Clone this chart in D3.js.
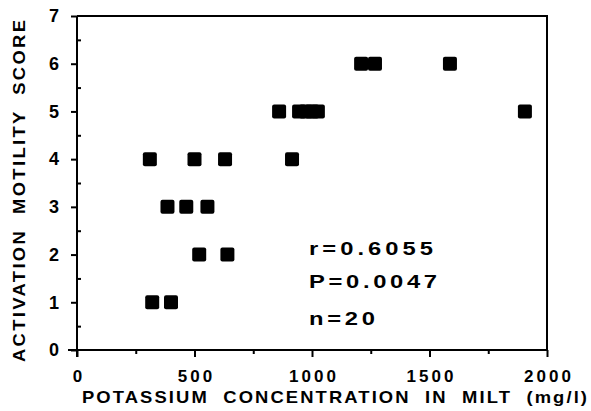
<!DOCTYPE html>
<html>
<head>
<meta charset="utf-8">
<script src="https://cdn.jsdelivr.net/npm/d3@7"></script>
<style>
  body { margin: 0; background: #fff; }
  text { font-family: 'Liberation Sans', Arial, sans-serif; font-weight: bold; fill: #000; white-space: pre; }
</style>
</head>
<body>
<script>
// potassium (mg/l) vs activation motility score
const potassium = [310, 500, 630, 915, 385, 465, 555, 520, 640, 320, 400,
  860, 945, 975, 1000, 1025, 1906, 1209, 1268, 1587];
const motility = [4, 4, 4, 4, 3, 3, 3, 2, 2, 1, 1,
  5, 5, 5, 5, 5, 5, 6, 6, 6];
const xMajor = [0, 500, 1000, 1500, 2000];
const xMinor = [250, 750, 1250, 1750];
const yMajor = [0, 1, 2, 3, 4, 5, 6, 7];
const yMinor = [0.5, 1.5, 2.5, 3.5, 4.5, 5.5, 6.5];
const stats = ['r=0.6055', 'P=0.0047', 'n=20'];

const w = 591;
const h = 411;
const wide = 1.15; // the original lettering is a little extended

const x = d3.scaleLinear().domain([0, 2000]).range([77, 547]);
const y = d3.scaleLinear().domain([0, 7]).range([350, 16]);

const svg = d3.select('body').append('svg')
  .attr('width', w)
  .attr('height', h);

// frame top and right
svg.append('path')
  .attr('d', 'M' + x(0) + ',' + y(7) + 'H' + x(2000) + 'V' + y(0))
  .attr('fill', 'none')
  .attr('stroke', '#000')
  .attr('stroke-width', 2);

// x axis
const xAxis = svg.append('g')
  .attr('transform', 'translate(0,' + y(0) + ')')
  .call(d3.axisBottom(x).tickValues(xMajor).tickFormat(d3.format('d'))
    .tickSize(7).tickPadding(13).tickSizeOuter(0));
xAxis.select('.domain').attr('d', 'M' + (x(0) - 9) + ',0H' + x(2000));
svg.append('g')
  .attr('transform', 'translate(0,' + y(0) + ')')
  .call(d3.axisBottom(x).tickValues(xMinor).tickSize(4).tickFormat(''))
  .select('.domain').remove();
xAxis.selectAll('text')
  .attr('font-size', 17)
  .attr('font-family', null)
  .style('letter-spacing', '3px')
  .attr('dx', '1.5px');

// y axis
const yAxis = svg.append('g')
  .attr('transform', 'translate(' + x(0) + ',0)')
  .call(d3.axisLeft(y).tickValues(yMajor).tickFormat(d3.format('d'))
    .tickSize(6).tickPadding(12).tickSizeOuter(0));
yAxis.select('.domain').attr('d', 'M0,' + y(7) + 'V' + (y(0) + 7));
svg.append('g')
  .attr('transform', 'translate(' + x(0) + ',0)')
  .call(d3.axisLeft(y).tickValues(yMinor).tickSize(-4).tickFormat(''))
  .select('.domain').remove();
yAxis.selectAll('text')
  .attr('font-size', 18)
  .attr('font-family', null);

svg.selectAll('.domain, .tick line')
  .attr('stroke', '#000')
  .attr('stroke-width', 2);

// points
const s = 14;
svg.selectAll('rect.pt')
  .data(potassium)
  .enter()
  .append('rect')
  .attr('class', 'pt')
  .attr('x', (d) => x(d) - s / 2)
  .attr('y', (d, i) => y(motility[i]) - s / 2)
  .attr('width', s)
  .attr('height', s)
  .attr('rx', 2)
  .attr('fill', '#000');

// stats
const statY = [255, 288, 325];
const statLen = [124, 128, 66];
svg.selectAll('text.stat')
  .data(stats)
  .enter()
  .append('text')
  .attr('class', 'stat')
  .attr('transform', (d, i) => 'translate(309,' + statY[i] + ') scale(1.25,1)')
  .attr('font-size', 19)
  .attr('textLength', (d, i) => statLen[i] / 1.25)
  .attr('lengthAdjust', 'spacing')
  .text((d) => d);

// axis titles
svg.append('text')
  .attr('transform', 'translate(82,403) scale(' + wide + ',1)')
  .attr('font-size', 16)
  .attr('textLength', 505 / wide)
  .attr('lengthAdjust', 'spacing')
  .text('POTASSIUM  CONCENTRATION  IN  MILT  (mg/l)');

svg.append('text')
  .attr('transform', 'translate(25,362) rotate(-90) scale(' + wide + ',1)')
  .attr('font-size', 16)
  .attr('textLength', 342 / wide)
  .attr('lengthAdjust', 'spacing')
  .text('ACTIVATION  MOTILITY  SCORE');
</script>
</body>
</html>
